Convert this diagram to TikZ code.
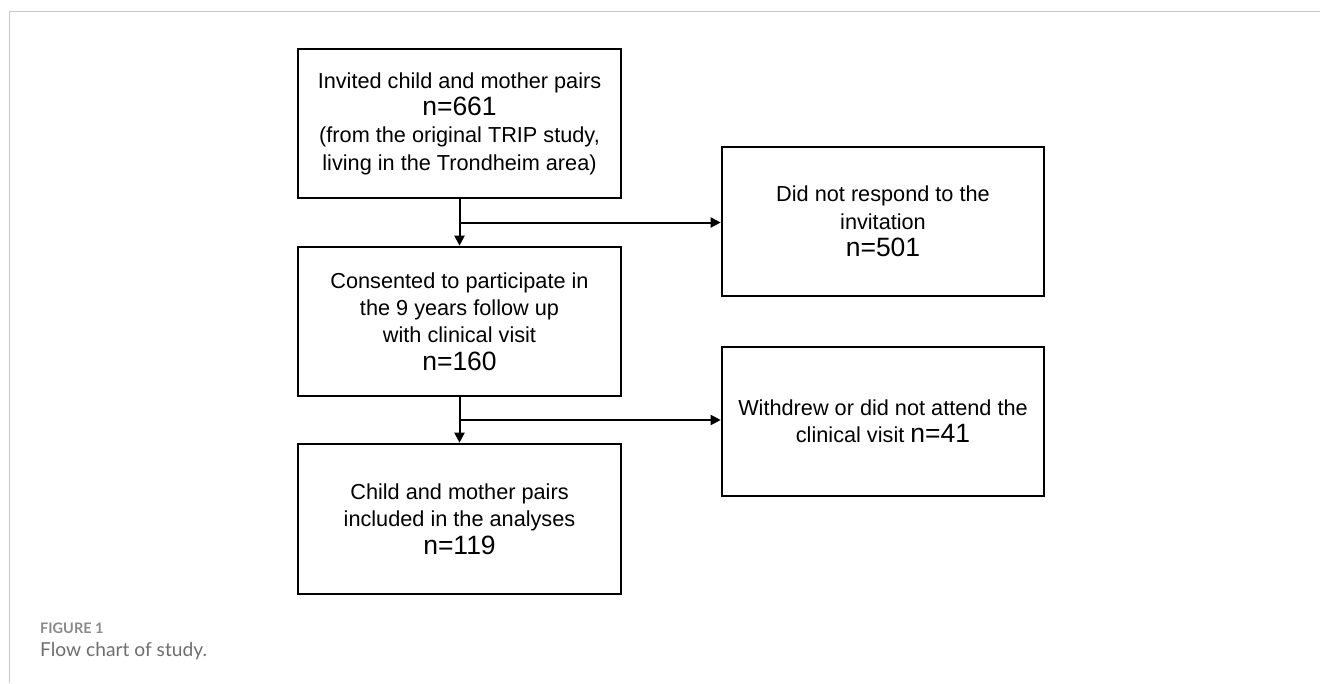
\documentclass[tikz,border=0pt]{standalone}
\usepackage{fontspec}
\setmainfont{Liberation Sans}
\newfontfamily\capfont{Lato}
\usetikzlibrary{arrows.meta,calc}
\definecolor{framegray}{HTML}{C8C8C8}
\definecolor{figgray}{HTML}{8A8A8A}
\definecolor{capgray}{HTML}{6E6E6E}
\tikzset{
  flowbox/.style={draw=black, line width=2.6pt, minimum width=323pt, minimum height=149pt,
    align=center, inner sep=0pt, font=\fontsize{21.7}{27.3}\selectfont},
  flowarrow/.style={line width=2pt, -{Triangle[length=10pt,width=10pt]}},
  framerule/.style={draw=framegray, line width=1.3pt},
}
\newcommand{\bign}[1]{{\fontsize{26.5}{27.3}\selectfont #1}}
\begin{document}
\begin{tikzpicture}[x=1pt,y=-1pt]
\useasboundingbox (0,0) rectangle (1320,683);
\draw[framerule] (1320,11.5) -- (9.5,11.5) -- (9.5,683);
\node[flowbox] (b1) at (459.5,123.5) {Invited child and mother pairs\\ \bign{n=661}\\ (from the original TRIP study,\\ living in the Trondheim area)};
\node[flowbox] (b2) at (459.5,321.5) {Consented to participate in\\ the 9 years follow up\\ with clinical visit\\ \bign{n=160}};
\node[flowbox, minimum height=150pt] (b3) at (459.5,519) {Child and mother pairs\\ included in the analyses\\ \bign{n=119}};
\node[flowbox, minimum width=322pt] (r1) at (883,221.5) {Did not respond to the\\ invitation\\ \bign{n=501}};
\node[flowbox, minimum width=322pt] (r2) at (883,421.5) {Withdrew or did not attend the\\ clinical visit \bign{n=41}};
\coordinate (j1) at ($(b1.south)!0.5!(b2.north)$);
\coordinate (j2) at ($(b2.south)!0.5!(b3.north)$);
\draw[flowarrow] (b1.south) -- (b2.north);
\draw[flowarrow] (j1) -- (j1 -| r1.west);
\draw[flowarrow] (b2.south) -- (b3.north);
\draw[flowarrow] (j2) -- (j2 -| r2.west);
\node[anchor=west, inner sep=0pt, text=figgray, font=\capfont\bfseries\fontsize{14.5}{18}\selectfont] (fig) at (40,628) {FIGURE 1};
\node[anchor=west, inner sep=0pt, text=capgray, font=\capfont\fontsize{19.2}{22}\selectfont] (cap) at (40,651) {Flow chart of study.};
\end{tikzpicture}
\end{document}
